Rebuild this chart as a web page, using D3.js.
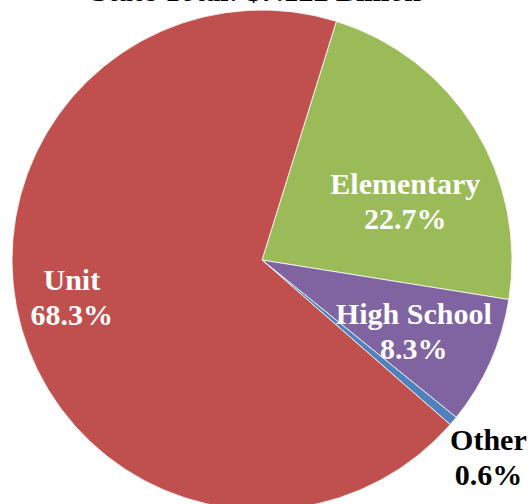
<!DOCTYPE html>
<html>
<head>
<meta charset="utf-8">
<script src="https://cdn.jsdelivr.net/npm/d3@7"></script>
<style>
  html, body { margin: 0; padding: 0; background: #fff; }
  svg { display: block; }
</style>
</head>
<body>
<svg id="chart" width="532" height="504"></svg>
<script>
// District type share of state total
const categories = ["Elementary", "High School", "Other", "Unit"];
const shares = [22.7, 8.3, 0.6, 68.3];
const colors = ["#9BBB59", "#8064A2", "#4F81BD", "#C0504D"];
const labelColors = ["#fff", "#fff", "#000", "#fff"];
// label placement: angle (deg, clockwise from top) and distance from centre as a fraction of radius
const labelAngles = [67.6, 115, 131, 259];
const labelRadii = [0.62, 0.67, 1.2, 0.775];
const title = "State Total: $7.122 Billion";

const svg = d3.select("#chart");
const cx = 262, cy = 260, R = 250;
const startDeg = 17.3;

const pie = d3.pie().sort(null).value(d => d)
  .startAngle(startDeg * Math.PI / 180)
  .endAngle((startDeg + 360) * Math.PI / 180);
const arcs = pie(shares);
const arc = d3.arc().innerRadius(0).outerRadius(R);

const g = svg.append("g").attr("transform", `translate(${cx},${cy})`);
g.selectAll("path").data(arcs).join("path")
  .attr("d", arc)
  .attr("fill", (d, i) => colors[i])
  .attr("stroke", "#fff")
  .attr("stroke-width", 0.8);

const font = "'Liberation Serif', 'Times New Roman', serif";
const labels = g.selectAll("text.lbl").data(arcs).join("text")
  .attr("class", "lbl")
  .attr("text-anchor", "middle")
  .attr("font-family", font)
  .attr("font-weight", "bold")
  .attr("font-size", 30)
  .attr("fill", (d, i) => labelColors[i])
  .attr("transform", (d, i) => {
    const a = labelAngles[i] * Math.PI / 180;
    const r = labelRadii[i] * R;
    return `translate(${r * Math.sin(a)},${-r * Math.cos(a)})`;
  });
labels.append("tspan").attr("x", 0).attr("y", -7).text((d, i) => categories[i]);
labels.append("tspan").attr("x", 0).attr("y", 28).text(d => d.data.toFixed(1) + "%");

svg.append("text")
  .attr("x", 256).attr("y", 1)
  .attr("text-anchor", "middle")
  .attr("font-family", font)
  .attr("font-weight", "bold")
  .attr("font-size", 30)
  .attr("fill", "#000")
  .text(title);
</script>
</body>
</html>
